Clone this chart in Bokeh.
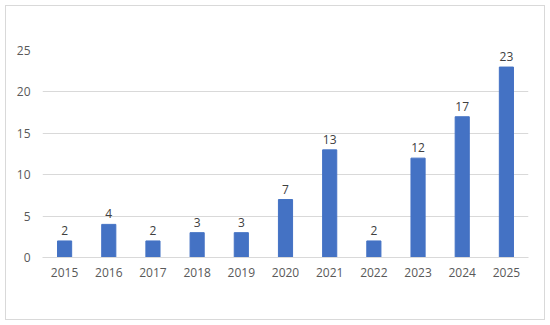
from bokeh.plotting import figure
from bokeh.models import ColumnDataSource, FixedTicker, Range1d
from bokeh.core.properties import value
from bokeh.embed import file_html
from bokeh.resources import INLINE

years = ["2015", "2016", "2017", "2018", "2019", "2020", "2021", "2022", "2023", "2024", "2025"]
counts = [2, 4, 2, 3, 3, 7, 13, 2, 12, 17, 23]
y_ticks = [0, 5, 10, 15, 20, 25]

source = ColumnDataSource(dict(year=years, count=counts, label=[str(c) for c in counts]))

FONT = "Open Sans"

p = figure(
    x_range=years,
    y_range=Range1d(0, 25),
    frame_width=486,
    frame_height=207,
    min_border_left=36,
    min_border_right=16,
    min_border_top=44,
    min_border_bottom=62,
    output_backend="svg",
    toolbar_location=None,
)
p.styles = {"margin-left": "5px", "margin-top": "5px",
            "border": "1px solid #d9d9d9", "box-sizing": "content-box"}

p.vbar(x="year", top="count", width=0.32, source=source, color="#4472C4")
p.text(x="year", y="count", text="label", source=source,
       text_align="center", text_baseline="bottom", y_offset=-6,
       text_font=value(FONT), text_font_size="12px", text_color="#404040")

p.outline_line_color = None
p.xgrid.grid_line_color = None
p.ygrid.grid_line_color = "#d9d9d9"
p.ygrid.grid_line_width = 1
p.yaxis.ticker = FixedTicker(ticks=y_ticks)

p.yaxis.axis_line_color = None
p.yaxis.major_tick_line_color = None
p.yaxis.minor_tick_line_color = None
p.yaxis.major_tick_out = 0
p.yaxis.major_label_standoff = 12

p.xaxis.axis_line_color = "#d9d9d9"
p.xaxis.major_tick_line_color = None
p.xaxis.minor_tick_line_color = None
p.xaxis.major_tick_out = 0
p.xaxis.major_label_standoff = 10

for ax in (p.xaxis, p.yaxis):
    ax.major_label_text_font = FONT
    ax.major_label_text_font_size = "12px"
    ax.major_label_text_color = "#595959"

p.x_range.range_padding = 0
p.background_fill_color = "white"
p.border_fill_color = "white"

open("out.html", "w").write(file_html(p, INLINE))
